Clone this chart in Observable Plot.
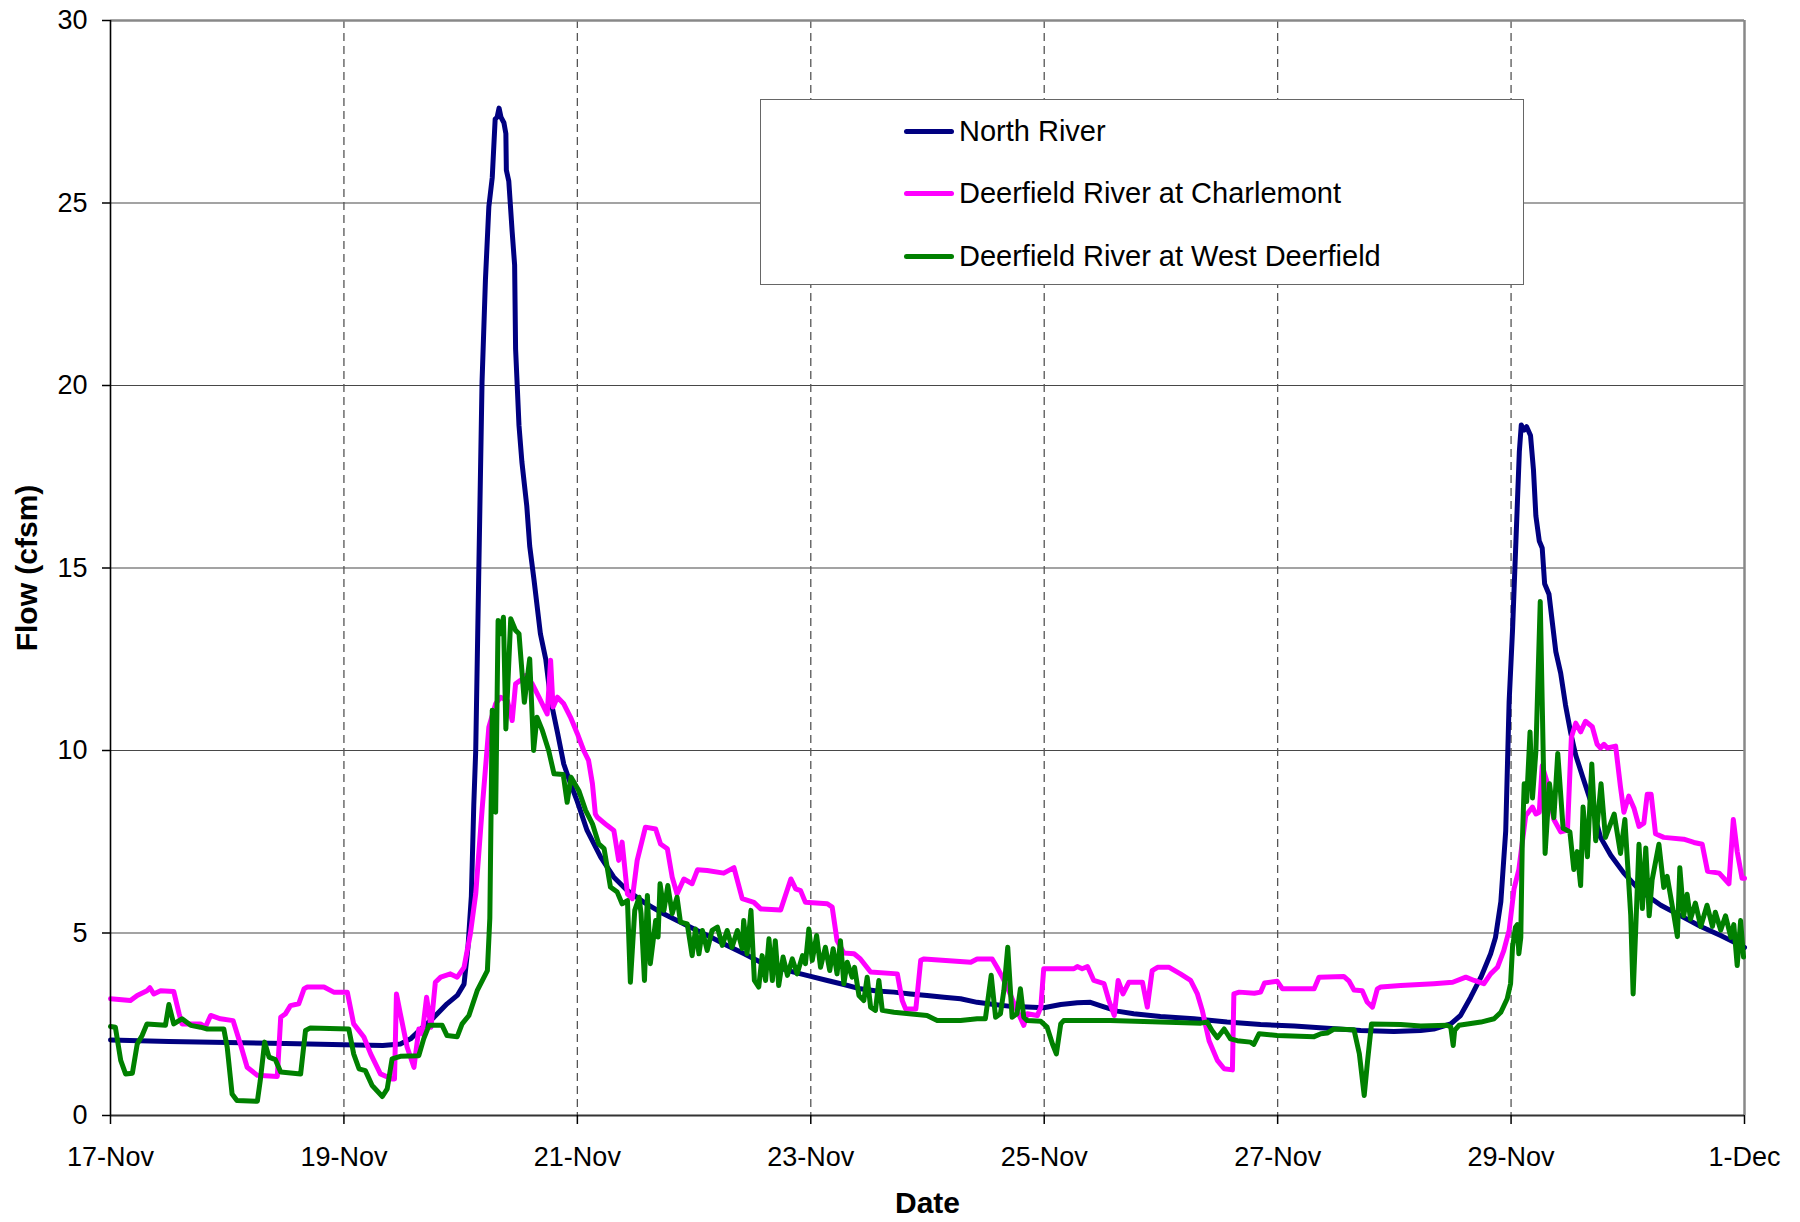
<!DOCTYPE html>
<html>
<head>
<meta charset="utf-8">
<script src="https://cdn.jsdelivr.net/npm/d3@7"></script>
<script src="https://cdn.jsdelivr.net/npm/@observablehq/plot@0.6"></script>
<style>
  body { margin: 0; background: #fff; }
  #wrap { position: relative; width: 1800px; height: 1222px; }
  #legend { position: absolute; left: 760px; top: 99px; width: 762px; height: 184px;
            border: 1.5px solid #666; background: #fff;
            font-family: "Liberation Sans", Arial, sans-serif; font-size: 29px; color: #000; }
  .item { position: absolute; left: 143px; height: 0; }
  .item .sw { position: absolute; left: 0; top: -2.5px; width: 50px; height: 5px; border-radius: 2.5px; }
  .item .lab { position: absolute; left: 55px; top: -17px; line-height: 34px; white-space: nowrap; }
</style>
</head>
<body>
<div id="wrap"></div>
<script>
// ---- data: [hours since 17-Nov 00:00, flow (cfsm)] ----
const seriesNames = ["North River", "Deerfield River at Charlemont", "Deerfield River at West Deerfield"];
const seriesColors = ["#000080", "#ff00ff", "#008000"];

const northRiver = [
  [0,2.07],[12,2.03],[24,2.0],[36,1.97],[48,1.94],[56,1.92],[59.6,1.96],[61.7,2.1],[63.8,2.37],[66.5,2.69],
  [69.2,3.06],[71.3,3.29],[72.7,3.6],[73.5,4.6],[74.2,6.0],[74.7,8.5],[75.1,10.0],[75.7,14.66],[76.4,20.1],
  [77.1,22.9],[77.8,24.9],[78.5,25.7],[79.1,27.3],[79.5,27.35],[79.9,27.6],[80.3,27.35],[80.9,27.2],[81.3,26.9],
  [81.4,25.9],[81.9,25.6],[82.6,24.2],[83.1,23.3],[83.3,21.0],[84.0,18.9],[84.6,17.9],[85.6,16.7],[86.2,15.6],
  [87.1,14.66],[88.4,13.2],[89.5,12.5],[90.5,11.4],[91.9,10.5],[93.2,9.63],[94.6,9.09],[96.0,8.6],[98.0,7.81],
  [100.8,7.08],[103.5,6.53],[106.3,6.16],[109.7,5.84],[113.1,5.57],[116.5,5.34],[120.0,5.11],[123.4,4.89],
  [126.8,4.66],[130.3,4.43],[133.7,4.2],[137.1,4.06],[140.5,3.93],[144,3.81],[147.4,3.7],[150.8,3.59],
  [154.2,3.47],[157.6,3.41],[161.1,3.38],[164.5,3.33],[167.9,3.29],[171.4,3.24],[174.8,3.2],[178.2,3.1],
  [181.7,3.04],[185.1,2.99],[188.5,2.97],[191.9,2.95],[195.4,3.04],[198.8,3.09],[201.5,3.1],[203.5,3.01],
  [207,2.86],[210.4,2.79],[215.9,2.71],[222.8,2.65],[229.6,2.56],[236.5,2.49],[243.4,2.45],[250.2,2.39],
  [257.1,2.33],[263.9,2.3],[269.4,2.33],[272.1,2.37],[275.6,2.51],[277.6,2.74],[279.7,3.24],[281.8,3.79],
  [283.8,4.43],[284.8,4.88],[285.9,5.86],[286.9,7.8],[287.6,11.34],[288.3,13.3],[289.0,15.74],[289.7,18.19],
  [290.1,18.92],[290.7,18.78],[291.2,18.87],[292.0,18.63],[292.6,17.7],[293.1,16.43],[293.8,15.74],[294.4,15.55],
  [294.9,14.57],[295.8,14.28],[296.5,13.49],[297.2,12.71],[298.2,12.12],[299.2,11.24],[300.3,10.46],[301.3,9.87],
  [302.7,9.29],[304.4,8.6],[306.4,7.62],[308.5,7.13],[311.2,6.64],[314.6,6.15],[318.8,5.76],[322.9,5.47],
  [327,5.18],[331.1,4.93],[333.8,4.75],[336,4.6]
];

const charlemont = [
  [0,3.2],[4.1,3.15],[5.5,3.29],[7.5,3.42],[8.1,3.5],[8.9,3.33],[10.3,3.42],[13.0,3.4],[14.1,2.79],[14.7,2.51],
  [18.5,2.51],[19.5,2.42],[20.6,2.74],[22.6,2.65],[25.2,2.6],[26.7,1.96],[28.1,1.32],[30.2,1.1],[34.3,1.07],
  [35.0,2.69],[36.0,2.79],[37.0,3.01],[38.7,3.06],[39.8,3.47],[40.4,3.52],[43.9,3.52],[45.9,3.38],[48.7,3.38],
  [50.0,2.51],[52.1,2.15],[53.5,1.69],[55.5,1.14],[57.9,1.0],[58.4,1.0],[58.8,3.33],[59.6,2.79],[61.0,1.87],
  [62.4,1.32],[63.4,2.37],[64.1,2.24],[65.0,3.24],[65.9,2.42],[66.8,3.65],[67.9,3.79],[69.9,3.88],[71.3,3.79],
  [72.7,4.06],[74.0,4.98],[75.1,6.07],[76.4,8.36],[77.8,10.64],[79.2,11.28],[80.2,11.46],[81.6,11.37],[82.6,10.82],
  [83.3,11.83],[84.3,11.92],[85.3,12.05],[86.7,11.83],[88.1,11.46],[89.8,11.0],[90.5,12.47],[91.0,11.19],
  [91.9,11.46],[93.2,11.28],[94.6,10.91],[96.0,10.46],[97.3,10.0],[98.3,9.73],[99.1,9.09],[99.7,8.26],[100.1,8.17],
  [102.1,7.95],[103.5,7.81],[104.5,6.99],[105.2,7.49],[106.3,6.07],[107.3,5.94],[108.3,6.99],[110.0,7.9],
  [112.1,7.85],[113.1,7.44],[114.5,7.31],[115.5,6.53],[116.5,6.07],[117.9,6.48],[119.6,6.35],[120.7,6.73],
  [122.7,6.71],[126.1,6.64],[128.2,6.79],[129.9,5.94],[132.3,5.84],[133.7,5.66],[137.8,5.63],[139.9,6.48],
  [140.9,6.21],[141.9,6.16],[142.9,5.84],[147.4,5.8],[148.4,5.71],[149.4,4.79],[150.8,4.45],[152.9,4.43],
  [154.2,4.29],[156.3,3.93],[161.8,3.88],[162.8,3.15],[163.5,2.92],[165.6,2.92],[166.6,4.25],[167.3,4.29],
  [176.9,4.2],[178.2,4.29],[181.3,4.29],[182.3,4.06],[183.4,3.79],[184.4,3.52],[186.1,2.97],[187.8,2.47],
  [188.5,2.79],[190.6,2.74],[191.3,2.97],[191.9,4.02],[198.1,4.02],[198.8,4.08],[199.8,4.02],[200.9,4.08],
  [202.2,3.7],[204.3,3.61],[205.3,3.15],[206.4,2.74],[207.2,3.7],[208.2,3.33],[209.4,3.65],[212.2,3.65],
  [213.2,2.97],[214.2,3.97],[215.3,4.06],[217.7,4.06],[220.0,3.88],[222.1,3.7],[223.5,3.33],[224.5,2.88],
  [225.9,2.05],[227.6,1.51],[229.0,1.28],[230.7,1.25],[231.0,3.33],[232.1,3.38],[235.2,3.35],[236.5,3.38],
  [237.3,3.63],[239.9,3.68],[241.0,3.47],[247.5,3.47],[248.5,3.79],[253.6,3.81],[254.7,3.68],[255.7,3.44],
  [257.4,3.42],[258.4,3.11],[259.5,2.97],[260.5,3.47],[261.2,3.52],[265.3,3.56],[272.1,3.61],[276.0,3.65],
  [278.7,3.79],[280.4,3.7],[282.4,3.61],[283.8,3.88],[285.2,4.06],[286.5,4.52],[287.6,5.07],[288.6,6.2],
  [289.6,6.74],[291.0,8.21],[292.4,8.45],[293.1,8.26],[293.8,8.31],[294.4,9.58],[295.5,9.09],[296.8,8.11],
  [298.2,7.77],[299.6,7.82],[300.4,10.36],[301.3,10.75],[302.3,10.51],[303.3,10.8],[304.7,10.65],[305.7,10.17],
  [306.4,10.07],[307.1,10.17],[307.8,10.07],[309.5,10.12],[310.5,9.0],[311.2,8.31],[312.2,8.75],[313.3,8.41],
  [314.3,7.92],[315.3,8.01],[316.0,8.8],[316.8,8.8],[317.7,7.72],[319.4,7.62],[323.5,7.57],[325.6,7.48],
  [327.3,7.43],[328.4,6.69],[330.8,6.64],[332.8,6.35],[333.7,8.11],[334.5,7.23],[335.5,6.5],[336,6.5]
];

const westDeerfield = [
  [0,2.44],[1.0,2.42],[2.1,1.51],[3.1,1.14],[4.5,1.16],[5.5,1.96],[6.5,2.19],[7.5,2.51],[11.3,2.47],[12.0,3.04],
  [13.0,2.51],[14.7,2.65],[16.5,2.47],[18.5,2.42],[19.9,2.37],[23.3,2.37],[24.0,1.87],[25.0,0.59],[26.0,0.41],
  [30.2,0.39],[30.8,0.96],[31.7,2.01],[32.6,1.6],[33.9,1.53],[35.0,1.19],[39.1,1.14],[40.1,2.33],[41.1,2.4],
  [49.0,2.37],[50.0,1.69],[51.1,1.28],[52.4,1.23],[53.8,0.82],[54.8,0.68],[55.9,0.52],[56.9,0.73],[57.9,1.55],
  [59.6,1.62],[63.4,1.64],[64.4,2.1],[65.5,2.47],[68.2,2.47],[69.2,2.19],[71.3,2.16],[72.3,2.51],[73.7,2.74],
  [75.4,3.42],[77.5,3.97],[78.0,5.4],[78.5,11.1],[79.2,8.31],[79.7,13.56],[80.2,13.2],[80.8,13.65],[81.3,10.59],
  [82.3,13.61],[83.3,13.29],[84.0,13.2],[85.1,11.32],[86.2,12.51],[87.0,10.0],[87.7,10.91],[88.8,10.55],
  [90.1,10.0],[91.2,9.36],[93.1,9.34],[93.9,8.58],[94.7,9.27],[96.3,8.9],[97.7,8.36],[99.1,7.99],[100.4,7.44],
  [101.5,7.31],[102.8,6.26],[104.2,6.12],[105.2,5.8],[106.3,5.89],[106.9,3.65],[107.8,5.62],[108.7,5.98],
  [109.1,5.53],[109.8,3.7],[110.4,6.03],[111.0,4.16],[112.1,5.34],[112.6,4.89],[113.0,6.35],[113.8,5.62],
  [114.6,6.3],[115.5,5.53],[116.5,5.98],[117.2,5.3],[118.6,5.25],[119.6,4.38],[120.3,5.11],[121.0,4.43],
  [121.7,5.07],[122.7,4.52],[123.7,5.07],[124.8,5.16],[125.8,4.66],[126.8,5.07],[127.8,4.61],[128.9,5.07],
  [129.9,4.57],[130.2,5.34],[130.9,4.43],[131.7,5.62],[132.4,3.7],[133.3,3.52],[134.0,4.38],[134.7,3.7],
  [135.4,4.84],[136.1,3.7],[136.7,4.79],[137.4,3.56],[138.3,4.34],[139.2,3.84],[140.2,4.29],[141.2,3.88],
  [142.3,4.38],[142.9,4.16],[143.6,5.11],[144.3,4.25],[145.2,4.93],[146.0,4.06],[147.0,4.61],[147.9,3.97],
  [148.6,4.57],[149.4,3.88],[150.1,4.79],[150.8,3.61],[151.5,4.2],[152.5,3.79],[153.0,4.06],[153.9,3.29],
  [154.9,3.15],[155.6,3.79],[156.3,2.97],[157.3,2.88],[158.0,3.7],[158.7,2.88],[161.1,2.83],[167.9,2.74],
  [170.0,2.6],[174.8,2.6],[178.2,2.65],[179.9,2.65],[181.1,3.84],[182.0,2.69],[183.0,2.79],[183.7,3.42],
  [184.5,4.61],[185.4,2.69],[186.4,2.79],[187.1,3.47],[187.8,2.69],[188.5,2.6],[191.3,2.58],[192.6,2.42],
  [193.7,1.96],[194.5,1.69],[195.4,2.51],[196.0,2.6],[205.6,2.6],[215.9,2.56],[224.2,2.53],[225.5,2.56],
  [226.5,2.33],[227.6,2.13],[229.0,2.37],[230.3,2.1],[231.7,2.05],[234.4,2.01],[235.1,1.95],[236.2,2.24],
  [239.9,2.19],[247.5,2.16],[248.9,2.24],[250.2,2.26],[251.6,2.37],[255.7,2.35],[256.8,1.69],[257.8,0.55],
  [258.5,1.51],[259.3,2.51],[265.3,2.49],[269.4,2.45],[274.9,2.47],[275.6,2.42],[276.1,1.92],[276.4,2.33],
  [277.3,2.47],[281.8,2.56],[284.5,2.65],[285.9,2.83],[287.2,3.2],[287.9,3.61],[288.3,4.61],[288.9,5.16],
  [289.3,5.23],[289.6,4.43],[290.0,4.88],[290.3,7.43],[290.7,9.09],[291.2,8.6],[291.9,10.51],[292.4,8.7],
  [293.1,9.97],[294.0,14.08],[294.4,11.34],[295.0,7.18],[295.9,9.09],[296.8,8.16],[297.6,9.92],[298.7,7.87],
  [300.1,7.77],[300.9,6.74],[301.6,7.23],[302.3,6.3],[302.8,8.45],[303.7,7.09],[304.6,9.63],[305.4,7.53],
  [306.5,9.09],[307.4,7.62],[309.2,8.26],[310.5,7.18],[311.4,8.11],[312.6,5.5],[313.1,3.33],[313.6,5.0],
  [314.3,7.43],[315.0,5.67],[315.7,7.33],[316.4,5.47],[317.0,6.45],[318.4,7.43],[319.4,6.25],[320.1,6.55],
  [321.5,5.47],[322.2,4.9],[322.7,6.79],[323.5,5.47],[324.2,6.06],[324.9,5.38],[325.9,5.82],[327.0,5.18],
  [328.3,5.76],[329.4,5.18],[330.0,5.57],[331.1,5.08],[332.1,5.47],[333.2,4.88],[333.8,5.23],[334.5,4.11],
  [335.2,5.34],[335.8,4.34]
];

const xTickLabels = ["17-Nov","19-Nov","21-Nov","23-Nov","25-Nov","27-Nov","29-Nov","1-Dec"];
const yTicks = [0, 5, 10, 15, 20, 25, 30];

// ---- build ----
const start = Date.UTC(2007, 10, 17);
const toDate = h => new Date(start + h * 3600e3);
const xTicks = xTickLabels.map((_, i) => toDate(i * 48));
const xEnd = toDate(336);
const toRows = (arr, name) => arr.map(([h, v]) => ({series: name, date: toDate(h), flow: v}));
const allSeries = [northRiver, charlemont, westDeerfield].map((a, i) => toRows(a, seriesNames[i]));
const fmt = d => xTickLabels[xTicks.findIndex(t => +t === +d)];

const chart = Plot.plot({
  width: 1800,
  height: 1222,
  marginLeft: 110,
  marginRight: 56,
  marginTop: 20,
  marginBottom: 107,
  style: {fontFamily: "'Liberation Sans', Arial, sans-serif", fontSize: "27px", color: "#000", background: "#fff", overflow: "visible"},
  x: {type: "utc", domain: [toDate(0), xEnd]},
  y: {domain: [0, 30]},
  marks: [
    Plot.gridY(yTicks.filter(v => v > 0 && v < 30), {stroke: "#000", strokeOpacity: 0.72, strokeWidth: 1.2}),
    Plot.gridX(xTicks.slice(1, -1), {stroke: "#555", strokeOpacity: 1, strokeWidth: 1.3, strokeDasharray: "8,5"}),
    Plot.ruleY([30], {stroke: "#888", strokeWidth: 2.5}),
    Plot.ruleX([xEnd], {stroke: "#888", strokeWidth: 2.5}),
    ...allSeries.map((rows, i) => Plot.line(rows, {x: "date", y: "flow", stroke: seriesColors[i], strokeWidth: 5, strokeLinejoin: "round", strokeLinecap: "round"})),
    Plot.ruleY([0], {stroke: "#333", strokeWidth: 2}),
    Plot.ruleX([toDate(0)], {stroke: "#000", strokeWidth: 1.6}),
    Plot.axisY({ticks: yTicks, tickSize: 8, tickPadding: 15, label: null, fontSize: 27, strokeWidth: 1.5}),
    Plot.axisX({ticks: xTicks, tickSize: 9, tickPadding: 22, tickFormat: fmt, label: null, fontSize: 27, strokeWidth: 1.5}),
    Plot.text(["Date"], {text: d => d, frameAnchor: "bottom", dy: 97, fontWeight: "bold", fontSize: 30}),
    Plot.text(["Flow (cfsm)"], {text: d => d, frameAnchor: "left", dx: -83, rotate: -90, textAnchor: "middle", lineAnchor: "middle", fontWeight: "bold", fontSize: 30})
  ]
});

const wrap = document.getElementById("wrap");
wrap.appendChild(chart);

// legend (HTML overlay)
const legend = document.createElement("div");
legend.id = "legend";
const itemY = [31, 93, 156];
seriesNames.forEach((name, i) => {
  const it = document.createElement("div");
  it.className = "item";
  it.style.top = itemY[i] + "px";
  const sw = document.createElement("div");
  sw.className = "sw";
  sw.style.background = seriesColors[i];
  const lab = document.createElement("div");
  lab.className = "lab";
  lab.textContent = name;
  it.appendChild(sw);
  it.appendChild(lab);
  legend.appendChild(it);
});
wrap.appendChild(legend);
</script>
</body>
</html>
